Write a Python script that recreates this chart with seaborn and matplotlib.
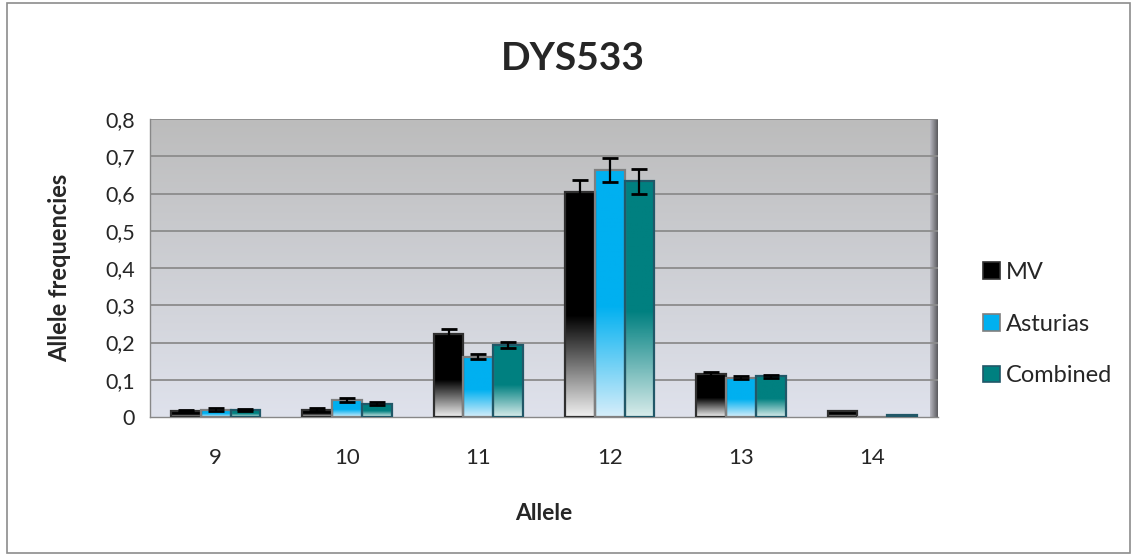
import numpy as np
import pandas as pd
import matplotlib
matplotlib.use("Agg")
import matplotlib.pyplot as plt
import matplotlib.colors as mcolors
from matplotlib.patches import Rectangle, Patch
import seaborn as sns

# ---- data ----
alleles = ["9", "10", "11", "12", "13", "14"]
series = ["MV", "Asturias", "Combined"]
mv = [0.016, 0.020, 0.222, 0.605, 0.115, 0.016]
asturias = [0.020, 0.045, 0.162, 0.663, 0.106, 0.0]
combined = [0.019, 0.035, 0.193, 0.633, 0.110, 0.006]
mv_err = [0.003, 0.004, 0.013, 0.031, 0.005, 0.0]
asturias_err = [0.004, 0.005, 0.007, 0.032, 0.005, 0.0]
combined_err = [0.003, 0.004, 0.008, 0.034, 0.004, 0.0]
yticks = [0, 0.1, 0.2, 0.3, 0.4, 0.5, 0.6, 0.7, 0.8]
ytick_labels = ["0", "0,1", "0,2", "0,3", "0,4", "0,5", "0,6", "0,7", "0,8"]

df = pd.DataFrame({
    "Allele": alleles * 3,
    "Series": sum([[s] * len(alleles) for s in series], []),
    "Freq": mv + asturias + combined,
})
errs = {"MV": mv_err, "Asturias": asturias_err, "Combined": combined_err}

top_colors = {"MV": "#000000", "Asturias": "#00b0f0", "Combined": "#008080"}
bottom_colors = {"MV": "#f0f0f0", "Asturias": "#d6eefa", "Combined": "#d8eceb"}
edge_colors = {"MV": "#303030", "Asturias": "#7f7f7f", "Combined": "#215868"}
solid_frac = {"MV": 0.55, "Asturias": 0.55, "Combined": 0.55}

sns.set_style("white")
plt.rcParams["font.family"] = ["Lato", "DejaVu Sans"]

fig = plt.figure(figsize=(11.35, 5.55), dpi=100)
ax = fig.add_axes([150 / 1135, 1 - 417 / 555, (938 - 150) / 1135, (417 - 119) / 555])

sns.barplot(data=df, x="Allele", y="Freq", hue="Series", hue_order=series,
            order=alleles, palette=top_colors, width=0.68, gap=0,
            errorbar=None, ax=ax, legend=False, zorder=3)

ax.set_ylim(0, 0.8)
ax.set_xlim(-0.5, len(alleles) - 0.5)

# background gradient
bg = np.linspace(0, 1, 256).reshape(-1, 1)
bg_cmap = mcolors.LinearSegmentedColormap.from_list("bg", ["#dfe2ec", "#bcbcbc"])
ax.imshow(bg, cmap=bg_cmap, aspect="auto", extent=[0, 1, 0, 1], origin="lower",
          transform=ax.transAxes, zorder=0)
# right wall shading
wall = np.linspace(0, 1, 64).reshape(1, -1)
wall_cmap = mcolors.LinearSegmentedColormap.from_list("wall", ["#b8b8c0", "#5a5a5e"])
ax.imshow(wall, cmap=wall_cmap, aspect="auto", extent=[0.99, 1.0, 0, 1],
          transform=ax.transAxes, zorder=0.6)

# bar gradients
patches = [p for p in ax.patches if isinstance(p, Rectangle) and p.get_width() > 0]
patches = sorted(patches, key=lambda p: p.get_x())
hue_by_patch = [series[k % 3] for k in range(len(patches))]

for p, s in zip(patches, hue_by_patch):
    h = p.get_height()
    x0 = p.get_x()
    w = p.get_width()
    f = solid_frac[s]
    t = np.linspace(0, 1, 256)
    vals = np.clip(t / (1 - f), 0, 1)
    cmap = mcolors.LinearSegmentedColormap.from_list(
        "g" + s, [bottom_colors[s], top_colors[s]])
    img = ax.imshow(vals.reshape(-1, 1), cmap=cmap, vmin=0, vmax=1, aspect="auto",
                    extent=[x0, x0 + w, 0, h], origin="lower", zorder=3)
    img.set_clip_path(p)
    p.set_facecolor("none")
    p.set_edgecolor(edge_colors[s])
    p.set_linewidth(1.6)
    p.set_zorder(4)

# error bars
for p, s in zip(patches, hue_by_patch):
    cx = p.get_x() + p.get_width() / 2
    idx = int(round(cx))
    e = errs[s][idx]
    if e > 0:
        ax.errorbar(cx, p.get_height(), yerr=e, fmt="none", ecolor="black",
                    elinewidth=1.6, capsize=6, capthick=2, zorder=5)

ax.set_xlim(-0.5, len(alleles) - 0.5)
ax.set_ylim(0, 0.8)

# grid
ax.set_yticks(yticks)
ax.set_yticklabels(ytick_labels)
for y in yticks[1:]:
    ax.axhline(y, color="#8c8c8c", lw=1.3, zorder=1)

ax.set_xticks(np.arange(len(alleles)))
ax.set_xticklabels(alleles)
ax.set_xticks(np.arange(-0.5, len(alleles)), minor=True)
ax.tick_params(axis="x", which="major", length=0, pad=22, labelsize=16)
ax.tick_params(axis="x", which="minor", length=7, color="#888888", width=1)
ax.tick_params(axis="y", length=6, color="#888888", width=1, labelsize=15.5, pad=5)

for side in ["top", "right"]:
    ax.spines[side].set_visible(False)
ax.spines["left"].set_color("#888888")
ax.spines["bottom"].set_color("#888888")
ax.spines["left"].set_linewidth(1)
ax.spines["bottom"].set_linewidth(1)

ax.set_xlabel("Allele", fontsize=16.5, fontweight="bold")
ax.xaxis.set_label_coords(0.5, -(513 - 417) / 298, transform=ax.transAxes)
ax.xaxis.label.set_va("center")
ax.set_ylabel("Allele frequencies", fontsize=17, fontweight="bold")
ax.yaxis.set_label_coords(-(150 - 60) / 788, (417 - 268) / 298, transform=ax.transAxes)
ax.yaxis.label.set_va("center")
fig.text(573 / 1135, 1 - 58 / 555, "DYS533", fontsize=28, fontweight="bold",
         ha="center", va="center")

handles = [Patch(facecolor=top_colors[s], edgecolor=edge_colors[s], linewidth=1.2)
           for s in series]
fig.legend(handles, series, loc="center left", bbox_to_anchor=(962 / 1135, 1 - 324 / 555),
           frameon=False, fontsize=17, handlelength=0.7, handleheight=0.7,
           handletextpad=0.25, labelspacing=1.3)

fig.patches.append(Rectangle((0.006, 0.004), 0.99, 0.99, transform=fig.transFigure,
                             fill=False, edgecolor="#8c8c8c", linewidth=1.2))

fig.savefig("out.png", dpi=100)
